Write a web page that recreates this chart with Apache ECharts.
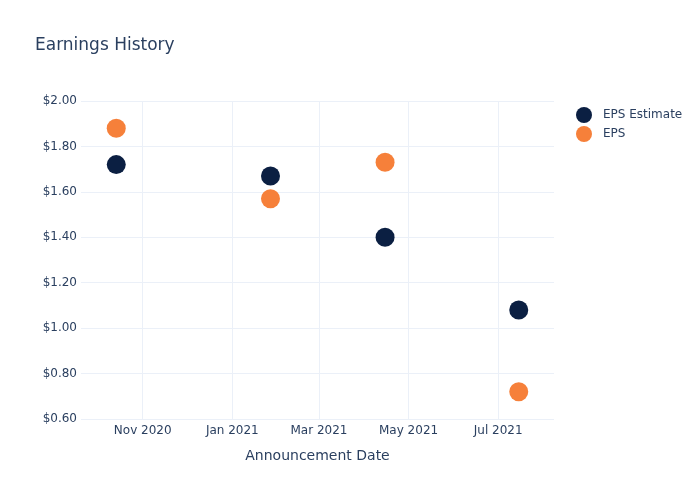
<!DOCTYPE html>
<html>
<head>
<meta charset="utf-8">
<script src="https://cdn.jsdelivr.net/npm/echarts@6/dist/echarts.min.js"></script>
<style>html,body{margin:0;padding:0;background:#fff}#c{width:700px;height:500px}</style>
</head>
<body>
<div id="c"></div>
<script>
const dates = ['2020-10-14', '2021-01-27', '2021-04-15', '2021-07-15'];
const epsEstimate = [1.72, 1.67, 1.40, 1.08];
const eps = [1.88, 1.57, 1.73, 0.72];
const xTickDates = ['2020-11-01', '2021-01-01', '2021-03-01', '2021-05-01', '2021-07-01'];
const xTickLabels = ['Nov 2020', 'Jan 2021', 'Mar 2021', 'May 2021', 'Jul 2021'];
const xRange = ['2020-09-20', '2021-08-08'];

function ts(s) { const p = s.split('-').map(Number); return Date.UTC(p[0], p[1] - 1, p[2]); }
const tickTs = xTickDates.map(ts);

const font = 'DejaVu Sans';
const textColor = '#2a3f5f';
const chart = echarts.init(document.getElementById('c'), null, {renderer: 'canvas'});
chart.setOption({
  animation: false,
  backgroundColor: '#fff',
  title: {
    text: 'Earnings History', left: 30, top: 32,
    textStyle: {fontFamily: font, fontSize: 17, fontWeight: 'normal', color: textColor}
  },
  legend: {
    orient: 'vertical', left: 571, top: 102, itemWidth: 16, itemHeight: 16, itemGap: 3,
    icon: 'circle',
    textStyle: {fontFamily: font, fontSize: 12, color: textColor, padding: [0, 0, 0, 6]},
    data: ['EPS Estimate', 'EPS']
  },
  grid: {left: 81, right: 146, top: 101, bottom: 81, containLabel: false},
  xAxis: {
    type: 'value', min: ts(xRange[0]), max: ts(xRange[1]),
    name: 'Announcement Date', nameLocation: 'middle', nameGap: 30,
    nameTextStyle: {fontFamily: font, fontSize: 14, color: textColor},
    axisLine: {show: false},
    axisTick: {show: false, customValues: tickTs},
    axisLabel: {
      customValues: tickTs, margin: 6, fontFamily: font, fontSize: 12, color: textColor,
      formatter: function (v) { const i = tickTs.indexOf(v); return i >= 0 ? xTickLabels[i] : ''; }
    },
    splitLine: {show: true, lineStyle: {color: '#ebf0f8', width: 1}}
  },
  yAxis: {
    type: 'value', min: 0.6, max: 2.0, interval: 0.2,
    axisLine: {show: false}, axisTick: {show: false},
    axisLabel: {margin: 4, fontFamily: font, fontSize: 12, color: textColor,
      formatter: v => '$' + v.toFixed(2)},
    splitLine: {lineStyle: {color: '#ebf0f8', width: 1}}
  },
  series: [
    {name: 'EPS Estimate', type: 'scatter', symbolSize: 19, itemStyle: {color: '#0b1f42', opacity: 1},
     data: dates.map((d, i) => [ts(d), epsEstimate[i]])},
    {name: 'EPS', type: 'scatter', symbolSize: 19, itemStyle: {color: '#f6803a', opacity: 1},
     data: dates.map((d, i) => [ts(d), eps[i]])}
  ]
});
</script>
</body>
</html>
